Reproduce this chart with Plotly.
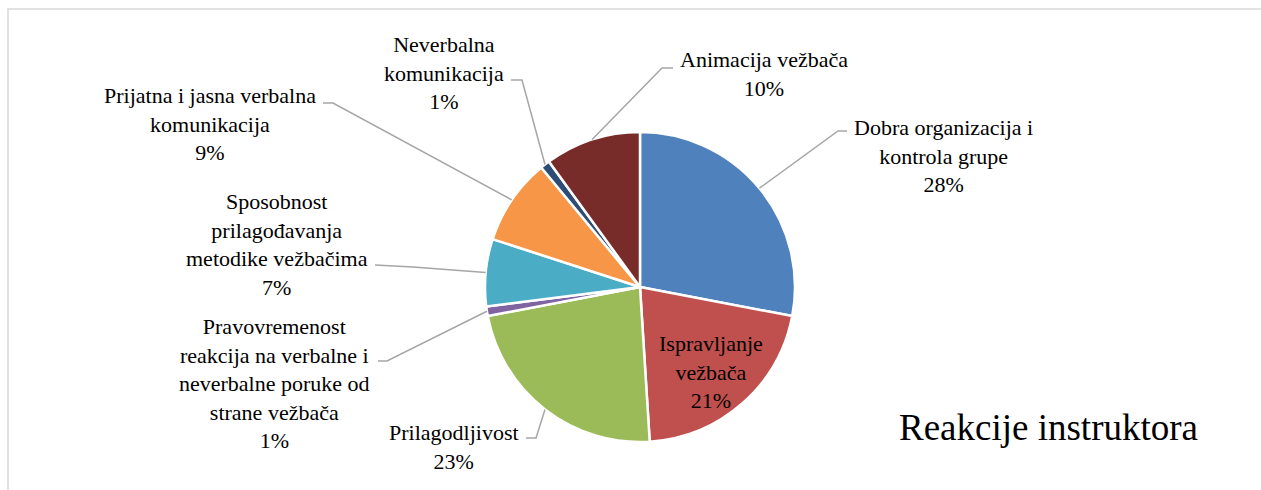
import math
import plotly.graph_objects as go

# Data
categories = [
    "Dobra organizacija i<br>kontrola grupe",
    "Ispravljanje<br>vežbača",
    "Prilagodljivost",
    "Pravovremenost<br>reakcija na verbalne i<br>neverbalne poruke od<br>strane vežbača",
    "Sposobnost<br>prilagođavanja<br>metodike vežbačima",
    "Prijatna i jasna verbalna<br>komunikacija",
    "Neverbalna<br>komunikacija",
    "Animacija vežbača",
]
values = [28, 21, 23, 1, 7, 9, 1, 10]
colors = ["#4F81BD", "#C0504D", "#9BBB59", "#8064A2",
          "#4BACC6", "#F79646", "#2C4D75", "#772C2A"]
title_text = "Reakcije instruktora"

# Canvas and pie geometry (pixels)
W, H = 1261, 490
CX, CY, R = 640, 287, 155

# Label layout (pixels): text anchor x, text centre y, horizontal anchor,
# elbow of leader line, end of leader line.
# None for the elbow/end means the label sits inside its slice.
label_layout = [
    (852, 156, "left", (838, 131), (847, 131)),
    (711, 372, "center", None, None),
    (521, 447, "right", (536, 438), (526, 438)),
    (372, 383, "right", (387, 361), (378, 361)),
    (370, 244, "right", (413, 267), (375, 265)),
    (318, 124, "right", (333, 103), (323, 103)),
    (506, 73, "right", (522, 80), (511, 80)),
    (678, 74, "left", (662, 68), (673, 68)),
]

FONT = "Liberation Serif, Times New Roman, serif"
LABEL_SIZE = 22
TITLE_SIZE = 37


def px(x):
    return x / W


def py(y):
    return 1 - y / H


fig = go.Figure()
fig.add_trace(go.Pie(
    labels=[c.replace("<br>", " ") for c in categories],
    values=values,
    sort=False,
    direction="clockwise",
    rotation=0,
    textinfo="none",
    hoverinfo="label+percent",
    marker=dict(colors=colors, line=dict(color="white", width=2.5)),
    domain=dict(x=[px(CX - R), px(CX + R)], y=[py(CY + R), py(CY - R)]),
    showlegend=False,
))

total = sum(values)
shapes = []
annotations = []
cum = 0.0
for cat, val, (ax, ay, anchor, elbow, end) in zip(categories, values, label_layout):
    mid = (cum + val / 2) / total * 2 * math.pi
    cum += val
    text = f"{cat}<br>{round(val / total * 100)}%"
    annotations.append(dict(
        x=px(ax), y=py(ay), xref="paper", yref="paper",
        text=text, showarrow=False, align="center",
        xanchor=anchor, yanchor="middle",
        font=dict(family=FONT, size=LABEL_SIZE, color="black"),
    ))
    if elbow is None:
        continue
    sx = CX + R * math.sin(mid)
    sy = CY - R * math.cos(mid)
    shapes.append(dict(
        type="path", xref="paper", yref="paper",
        path=f"M {px(sx)},{py(sy)} L {px(elbow[0])},{py(elbow[1])} L {px(end[0])},{py(end[1])}",
        line=dict(color="#A6A6A6", width=1.5),
    ))

annotations.append(dict(
    x=px(1048), y=py(427), xref="paper", yref="paper",
    text=title_text, showarrow=False,
    xanchor="center", yanchor="middle",
    font=dict(family=FONT, size=TITLE_SIZE, color="black"),
))

# Chart area frame
shapes.append(dict(
    type="rect", xref="paper", yref="paper",
    x0=px(8), y0=py(510), x1=px(1290), y1=py(9),
    line=dict(color="#D9D9D9", width=1.5),
))

fig.update_layout(
    width=W, height=H,
    margin=dict(l=0, r=0, t=0, b=0),
    paper_bgcolor="white",
    plot_bgcolor="white",
    font=dict(family=FONT),
    shapes=shapes,
    annotations=annotations,
)

fig.write_html("out.html")
